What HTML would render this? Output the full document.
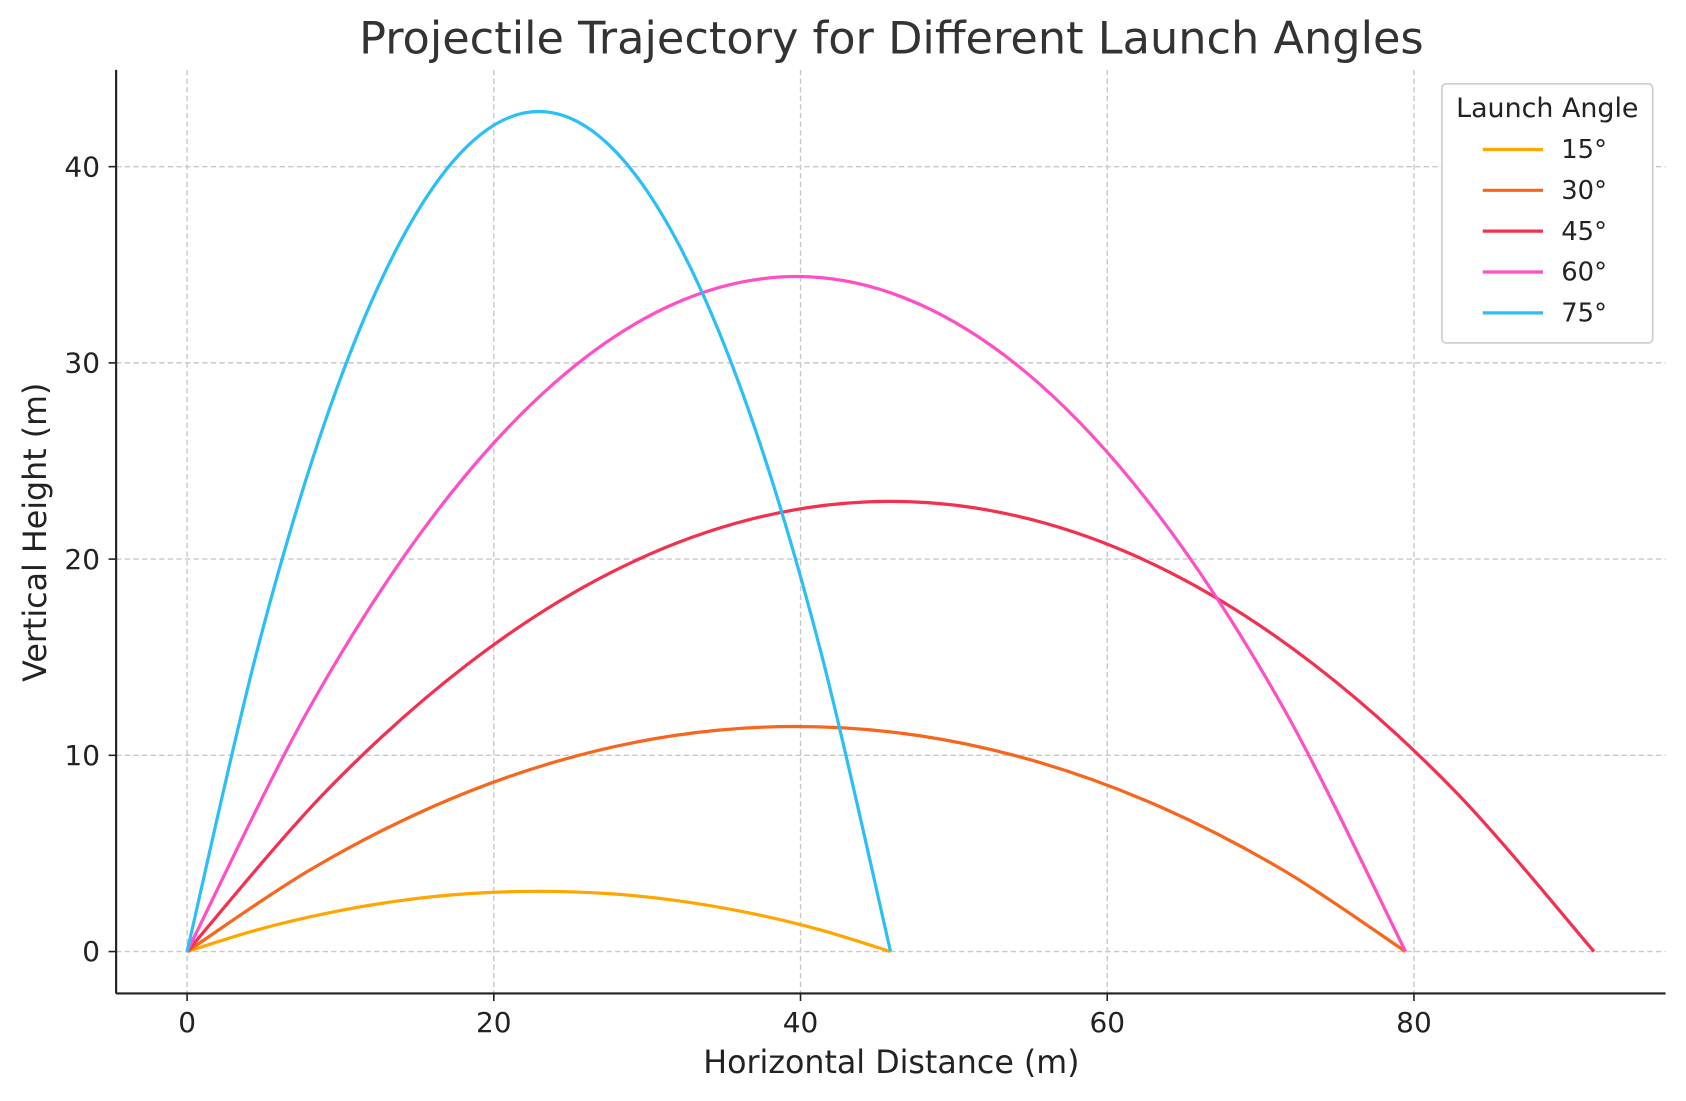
<!DOCTYPE html>
<html><head><meta charset="utf-8"><style>
body{margin:0;background:#fff;}
svg{display:block;}
svg text{font-family:"DejaVu Sans","Liberation Sans",sans-serif;fill:#222;}
</style></head><body>
<svg id="chart" width="1686" height="1101" viewBox="0 0 1568 1024" preserveAspectRatio="none" xmlns="http://www.w3.org/2000/svg">
<rect width="1568" height="1024" fill="#fff"/>
<text x="829" y="50" font-size="41.5" text-anchor="middle" style="fill:#333">Projectile Trajectory for Different Launch Angles</text>
<g id="grid"></g><g id="ticks"></g><g id="series"></g>
<line x1="108" y1="65" x2="108" y2="924" stroke="#222" stroke-width="2"/>
<line x1="108" y1="924" x2="1549" y2="924" stroke="#222" stroke-width="2"/>
<text x="829" y="998" font-size="29.5" text-anchor="middle">Horizontal Distance (m)</text>
<text x="0" y="0" font-size="29.5" text-anchor="middle" transform="translate(43,495) rotate(-90)">Vertical Height (m)</text>
<g id="legend">
<rect x="1341" y="78" width="196" height="241" rx="4" fill="#fff" stroke="#ccc" stroke-width="1.5"/>
<text x="1439" y="109" font-size="25" text-anchor="middle">Launch Angle</text>
</g>
</svg>
<script>
const angles=["15°","30°","45°","60°","75°"];
const colors=["#ffa600","#f7661d","#f2304f","#ff4fc6","#2bbef7"];
const xs15=[0,4.59,9.17,13.76,18.35,22.94,27.52,32.11,36.70,41.28,45.87];
const ys15=[0,1.11,1.96,2.58,2.95,3.07,2.95,2.58,1.96,1.11,0];
const xs30=[0,7.95,15.89,23.84,31.78,39.73,47.67,55.62,63.56,71.51,79.45];
const ys30=[0,4.13,7.34,9.63,11.01,11.47,11.01,9.63,7.34,4.13,0];
const xs45=[0,9.17,18.35,27.52,36.70,45.87,55.04,64.22,73.39,82.57,91.74];
const ys45=[0,8.26,14.68,19.27,22.02,22.94,22.02,19.27,14.68,8.26,0];
const xs60=[0,7.95,15.89,23.84,31.78,39.73,47.67,55.62,63.56,71.51,79.45];
const ys60=[0,12.38,22.02,28.90,33.02,34.40,33.02,28.90,22.02,12.38,0];
const xs75=[0,4.59,9.17,13.76,18.35,22.94,27.52,32.11,36.70,41.28,45.87];
const ys75=[0,15.41,27.40,35.96,41.10,42.81,41.10,35.96,27.40,15.41,0];
const xTicks=[0,20,40,60,80];
const yTicks=[0,10,20,30,40];
const seriesX=[xs15,xs30,xs45,xs60,xs75];
const seriesY=[ys15,ys30,ys45,ys60,ys75];

const NS="http://www.w3.org/2000/svg";
const X=v=>174+v*(1315-174)/80;
const Y=v=>885-v*(885-155)/40;
function mk(t,a,p){const e=document.createElementNS(NS,t);for(const k in a)e.setAttribute(k,a[k]);p.appendChild(e);return e;}
const grid=document.getElementById('grid'),ticks=document.getElementById('ticks'),ser=document.getElementById('series'),leg=document.getElementById('legend');
xTicks.forEach(t=>{
 const g=mk('line',{x1:X(t),x2:X(t),y1:65,y2:924,stroke:'#c8c8c8','stroke-width':1.3,'stroke-dasharray':'5,3'},grid);
 
 
 mk('line',{x1:X(t),x2:X(t),y1:924,y2:931,stroke:'#222','stroke-width':1.5},ticks);
 const l=mk('text',{x:X(t),y:960,'font-size':26,'text-anchor':'middle'},ticks);l.textContent=t;
 
 
});
yTicks.forEach(t=>{
 const g=mk('line',{x1:108,x2:1549,y1:Y(t),y2:Y(t),stroke:'#c8c8c8','stroke-width':1.3,'stroke-dasharray':'5,3'},grid);
 
 
 mk('line',{x1:101,x2:108,y1:Y(t),y2:Y(t),stroke:'#222','stroke-width':1.5},ticks);
 const l=mk('text',{x:93,y:Y(t)+9,'font-size':26,'text-anchor':'end'},ticks);l.textContent=t;
 
 
});
function smooth(px,py){
 let d=`M${px[0]},${py[0]}`;
 for(let i=0;i<px.length-1;i++){
  const i0=Math.max(0,i-1),i3=Math.min(px.length-1,i+2);
  const c1x=px[i]+(px[i+1]-px[i0])/6,c1y=py[i]+(py[i+1]-py[i0])/6;
  const c2x=px[i+1]-(px[i3]-px[i])/6,c2y=py[i+1]-(py[i3]-py[i])/6;
  d+=` C${c1x},${c1y} ${c2x},${c2y} ${px[i+1]},${py[i+1]}`;
 }
 return d;
}
angles.forEach((a,k)=>{
 const p=mk('path',{d:smooth(seriesX[k].map(X),seriesY[k].map(Y)),fill:'none',stroke:colors[k],'stroke-width':3},ser);
 
 
 const yy=139+38*k;
 const ln=mk('line',{x1:1379,x2:1435,y1:yy,y2:yy,stroke:colors[k],'stroke-width':3},leg);
 
 
 const t=mk('text',{x:1452,y:yy+8,'font-size':24},leg);t.textContent=a;
 
 
});
</script>
</body></html>
